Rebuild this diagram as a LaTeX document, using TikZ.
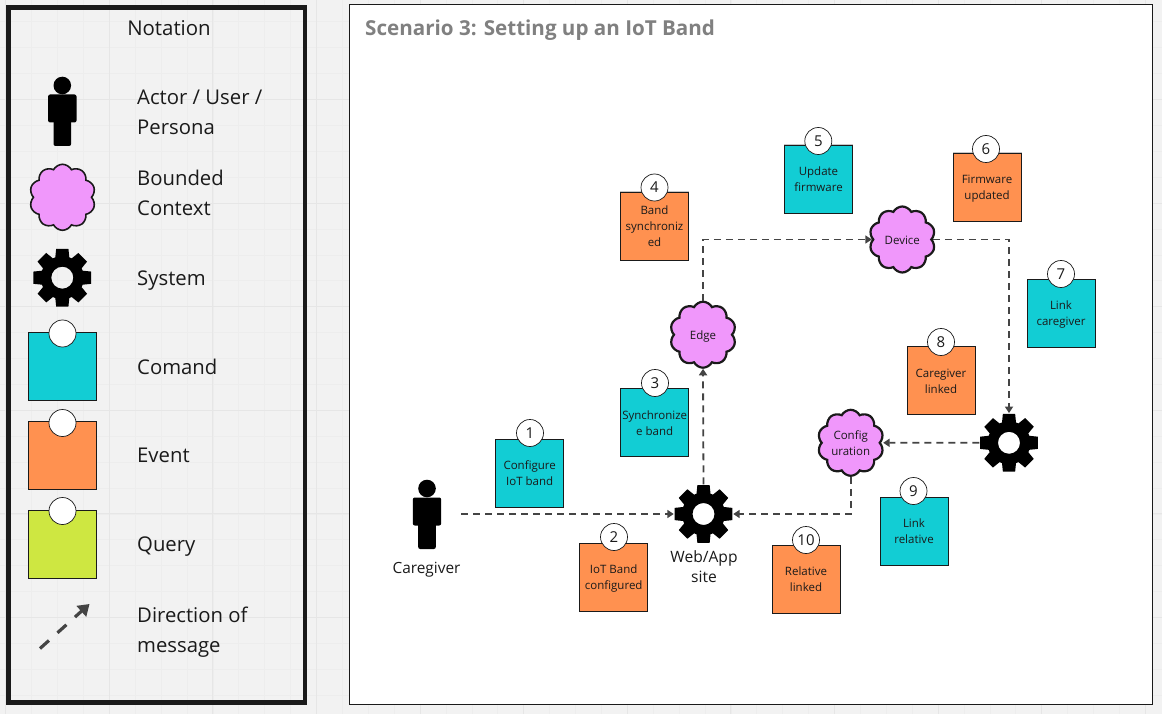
\documentclass[tikz,border=0pt]{standalone}
\usepackage{fontspec}
\setmainfont{Open Sans}
\usetikzlibrary{shapes.symbols,arrows.meta}
\definecolor{bgc}{HTML}{F2F2F2}
\definecolor{gmaj}{HTML}{E6E6E6}
\definecolor{gmin}{HTML}{EDEDED}
\definecolor{cmdc}{HTML}{12CDD4}
\definecolor{evtc}{HTML}{FF9150}
\definecolor{qryc}{HTML}{CEE741}
\definecolor{ctxc}{HTML}{F097FB}
\definecolor{inkc}{HTML}{1A1A1A}
\definecolor{linec}{HTML}{444444}
\newcommand{\nt}[1]{\raisebox{-4.7pt}[0pt][0pt]{\begin{tabular}{@{}c@{}}#1\end{tabular}}}
\tikzset{
 lineset/.style n args={2}{execute at begin node={\rule{0pt}{#1}},execute at end node={\rule[-#2]{0pt}{#2}}},
 sticky/.style={draw=inkc,line width=0.9pt,minimum width=68pt,minimum height=68pt,inner sep=0pt,text=inkc,align=center,font=\fontsize{11.5}{16}\selectfont,
   preaction={draw=black!22,line width=1pt,yshift=-1pt}},
 cmdnote/.style={sticky,fill=cmdc},
 evtnote/.style={sticky,fill=evtc},
 qrynote/.style={sticky,fill=qryc},
 numdot/.style={circle,draw=inkc,line width=0.7pt,fill=white,minimum size=27pt,inner sep=0pt,text=inkc,font=\fontsize{15}{15}\selectfont},
 ctx/.style={cloud,cloud puffs=10,cloud puff arc=125,aspect=1,draw=inkc,line width=2.2pt,fill=ctxc,minimum width=66pt,minimum height=66pt,inner sep=0pt,align=center,text=inkc,font=\fontsize{11.5}{16}\selectfont},
 gearnode/.style={circle,minimum size=59pt,inner sep=0pt},
 actornode/.style={rectangle,minimum width=68pt,minimum height=72pt,inner sep=0pt},
 legtext/.style={anchor=west,align=left,inner sep=0pt,text=inkc,lineset={17pt}{3pt},font=\fontsize{20.3}{30}\selectfont},
 msg/.style={draw=linec,line width=1.8pt,dash pattern=on 7pt off 5pt,-{Triangle[length=6.5pt,width=8pt,fill=linec]}},
}
\newcommand{\gearat}[1]{%
 \fill[black,even odd rule,shift={(#1)}] (-19:21.5)
  \foreach \a in {0,45,...,315}{ -- (\a-19:21.5) -- (\a-12:29.5) -- (\a+12:29.5) -- (\a+19:21.5) } -- cycle
  (0,0) circle (11);}
\newcommand{\actorat}[1]{%
 \fill[black,shift={(#1)}] (0,-25.5) circle (8.8);
 \fill[black,shift={(#1)},rounded corners=2pt] (-14.2,-16.5) rectangle (14.2,11.5);
 \fill[black,shift={(#1)},rounded corners=2pt] (-8.8,5) rectangle (8.8,35);}
\begin{document}
\begin{tikzpicture}[x=1pt,y=-1pt]
\useasboundingbox (0,0) rectangle (1162,714);
\fill[bgc] (0,0) rectangle (1162,714);
\foreach \k in {0,...,44}{
  \draw[gmin,line width=0.7pt] ({5.7+25.9*\k},0) -- ({5.7+25.9*\k},714);}
\foreach \k in {0,...,28}{
  \draw[gmin,line width=0.7pt] (0,{-4.1+25.9*\k}) -- (1162,{-4.1+25.9*\k});}
\foreach \k in {0,...,11}{
  \draw[gmaj,line width=0.9pt] ({5.7+103.6*\k},0) -- ({5.7+103.6*\k},714);}
\foreach \k in {0,...,6}{
  \draw[gmaj,line width=0.9pt] (0,{-4.1+103.6*\k}) -- (1162,{-4.1+103.6*\k});}
% panels
\node[draw=inkc,line width=1pt,fill=white,minimum width=803pt,minimum height=699pt,inner sep=0pt] (panel) at (750.5,354.5) {};
\node[draw=inkc,line width=4.8pt,minimum width=296.5pt,minimum height=695.5pt,inner sep=0pt] (legend) at (156.8,355) {};
\node[anchor=west,inner sep=0pt,text=black!50,font=\fontsize{20.6}{24}\selectfont\bfseries] (title) at (365,30.5) {Scenario 3: Setting up an IoT Band};
% legend
\node[inner sep=0pt,text=inkc,font=\fontsize{20.4}{24}\selectfont] (nott) at (169,28) {Notation};
\node[actornode] (la) at (62.3,111) {}; \actorat{la.center}
\node[ctx,line width=1.6pt] (lc) at (62.5,197.3) {};
\node[gearnode] (lg) at (62.3,277.7) {}; \gearat{lg.center}
\node[cmdnote] (lcmd) at (62.5,366.5) {};
\node[numdot] (lcmdn) at (62.5,333.5) {};
\node[evtnote] (levt) at (62.5,455.5) {};
\node[numdot] (levtn) at (62.5,423) {};
\node[qrynote] (lqry) at (62.5,544.5) {};
\node[numdot] (lqryn) at (62.5,511) {};
\coordinate (las) at (40,648.5);
\coordinate (lae) at (89.5,604);
\draw[draw=linec,line width=3.2pt,dash pattern=on 12pt off 11.5pt,-{Triangle[length=11pt,width=14pt,fill=linec]}] (las) -- (lae);
\node[legtext] (t1) at (137,114) {Actor / User /\\Persona};
\node[legtext] (t2) at (137,194) {Bounded\\Context};
\node[legtext] (t3) at (137,279) {System};
\node[legtext] (t4) at (137,367) {Comand};
\node[legtext] (t5) at (137,455) {Event};
\node[legtext] (t6) at (137,545) {Query};
\node[legtext] (t7) at (137,632) {Direction of\\message};
% sticky notes
\node[cmdnote] (s1) at (529.7,473) {\nt{Configure\\IoT band}};
\node[numdot] (n1) at (530,433) {1};
\node[evtnote] (s2) at (613.7,577) {\nt{IoT Band\\configured}};
\node[numdot] (n2) at (614,537) {2};
\node[cmdnote] (s3) at (654.7,422.7) {\nt{Synchronize\\e band}};
\node[numdot] (n3) at (655,383) {3};
\node[evtnote] (s4) at (654.5,226) {\nt{Band\\synchroniz\\ed}};
\node[numdot] (n4) at (654.5,187.5) {4};
\node[cmdnote] (s5) at (818.5,179) {\nt{Update\\firmware}};
\node[numdot] (n5) at (818.3,141) {5};
\node[evtnote] (s6) at (987,187) {\nt{Firmware\\updated}};
\node[numdot] (n6) at (986,149) {6};
\node[cmdnote] (s7) at (1061,313) {\nt{Link\\caregiver}};
\node[numdot] (n7) at (1061,274) {7};
\node[evtnote] (s8) at (941,380.7) {\nt{Caregiver\\linked}};
\node[numdot] (n8) at (941,342) {8};
\node[cmdnote] (s9) at (914,531) {\nt{Link\\relative}};
\node[numdot] (n9) at (913.5,491) {9};
\node[evtnote] (s10) at (806,579) {\nt{Relative\\linked}};
\node[numdot] (n10) at (806,540) {10};
% actors, contexts, systems
\node[actornode] (care) at (427,514) {}; \actorat{care.center}
\node[inner sep=0pt,text=inkc,font=\fontsize{15.4}{18}\selectfont] (carel) at (426.5,569.5) {Caregiver};
\node[gearnode] (web) at (703.5,514) {}; \gearat{web.center}
\node[inner sep=0pt,align=center,text=inkc,lineset={11pt}{4pt},font=\fontsize{15.6}{20}\selectfont] (webl) at (704,568.5) {Web/App\\site};
\node[gearnode] (sys) at (1009,442.8) {}; \gearat{sys.center}
\node[ctx] (edge) at (703,334.7) {\nt{Edge}};
\node[ctx] (device) at (902.3,239.5) {\nt{Device}};
\node[ctx] (config) at (850.7,442.8) {\nt{Config\\uration}};
% connectors
\draw[msg] (care.east) -- (web.west);
\draw[msg] (web.north) -- (edge.south);
\draw[msg] (edge.north) |- (device.west);
\draw[msg] (device.east) -| (sys.north);
\draw[msg] (sys.west) -- ([xshift=2pt]config.east);
\draw[msg] (config.south) |- (web.east);
\end{tikzpicture}
\end{document}
